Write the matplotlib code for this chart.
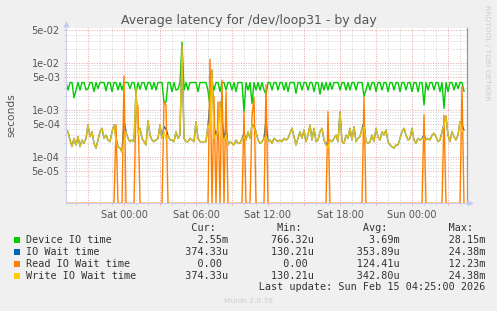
import numpy as np
import matplotlib
matplotlib.use("Agg")
import matplotlib.pyplot as plt
from matplotlib.patches import Rectangle, Polygon
from matplotlib.ticker import FixedLocator, NullFormatter

# one sample every 10 minutes, first one at Fri 19:10 (hours relative to Sat 00:00)
t_start = -4 - 50 / 60
t_step = 10 / 60

# Device IO time (ms)
device_io = [
    3.9, 2.7, 3.9, 3.9, 1.85, 2.7, 3.9, 2.7, 3.9, 3.9,
    2.7, 2.9, 3.9, 3.9, 2.5, 3.9, 2.9, 3.9, 3.9, 3.9,
    2.6, 3.9, 3.9, 2.5, 3.9, 3.9, 2.7, 3.9, 2.7, 3.9,
    3.9, 3.9, 2.9, 3.9, 3.9, 2.3, 3.9, 2.8, 3.9, 3.9,
    2.7, 3.9, 3.9, 2.8, 3.9, 2.7, 3.9, 3.9, 3.9, 1.5,
    1.5, 3.9, 3.9, 2.5, 3.9, 2.7, 2.8, 3.9, 28.15, 2.7,
    3.9, 2.7, 3.9, 3.9, 3.9, 3.9, 2.5, 3.9, 3.9, 3.9,
    3.9, 2.6, 1.2, 3.9, 2.7, 3.9, 3.9, 2.5, 3.9, 3.9,
    2.7, 3.9, 3.9, 2.7, 3.9, 2.5, 3.9, 3.9, 3.9, 0.93,
    3.9, 2.7, 3.9, 1.4, 3.9, 2.7, 3.9, 2.7, 3.9, 2.7,
    2.2, 3.9, 3.9, 2.7, 3.9, 3.9, 2.7, 3.9, 3.9, 2.7,
    3.9, 2.5, 3.9, 3.9, 3.9, 2.3, 3.9, 3.9, 2.7, 3.9,
    3.9, 2.7, 3.9, 3.9, 2.5, 3.9, 3.9, 2.2, 3.9, 2.7,
    3.9, 2.7, 3.9, 2.8, 3.9, 3.9, 3.9, 2.7, 3.9, 3.9,
    2.7, 3.9, 2.7, 3.9, 3.9, 2.7, 3.9, 3.9, 3.9, 2.0,
    2.7, 3.9, 2.7, 3.9, 3.9, 2.5, 3.9, 3.9, 2.7, 3.9,
    3.9, 2.5, 3.9, 3.9, 2.7, 3.9, 3.9, 2.5, 3.9, 3.9,
    2.7, 3.9, 3.9, 2.5, 3.9, 3.9, 2.5, 3.9, 3.9, 1.3,
    3.9, 2.7, 3.9, 3.9, 2.7, 3.9, 3.9, 2.5, 3.9, 1.1,
    3.9, 2.5, 3.9, 3.9, 2.7, 3.9, 2.9, 3.9, 3.9, 2.55,
]

# Write IO wait time (us)
write_wait = [
    380, 350, 233, 170, 253, 183, 275, 168, 233, 198,
    253, 487, 275, 350, 198, 156, 233, 350, 415, 253,
    297, 233, 215, 350, 487, 215, 168, 156, 130, 198,
    350, 253, 215, 233, 215, 2900, 297, 415, 253, 215,
    183, 600, 297, 233, 215, 233, 253, 490, 253, 350,
    233, 297, 233, 233, 215, 350, 253, 297, 24380, 253,
    215, 215, 253, 233, 215, 571, 253, 215, 215, 215,
    215, 487, 400, 7200, 253, 297, 350, 1500, 253, 233,
    297, 183, 215, 198, 183, 233, 198, 198, 253, 275,
    233, 350, 253, 487, 415, 350, 233, 198, 215, 253,
    275, 215, 233, 198, 253, 233, 215, 233, 215, 253,
    233, 253, 324, 415, 275, 183, 253, 350, 253, 381,
    215, 297, 487, 233, 415, 215, 233, 350, 415, 233,
    183, 156, 233, 215, 253, 297, 215, 930, 215, 198,
    297, 253, 415, 233, 449, 215, 253, 275, 415, 449,
    215, 198, 215, 297, 215, 415, 275, 233, 350, 297,
    381, 215, 183, 168, 156, 183, 183, 253, 350, 415,
    297, 233, 253, 415, 233, 198, 253, 233, 253, 253,
    233, 253, 233, 297, 324, 275, 215, 233, 350, 487,
    750, 297, 215, 350, 275, 233, 297, 571, 350, 374,
]

# Read IO wait time (us)
read_wait = [
    0, 0, 0, 0, 0, 0, 0, 0, 0, 0,
    0, 0, 0, 0, 0, 0, 0, 0, 0, 0,
    0, 0, 0, 0, 0, 490, 0, 0, 0, 5400,
    0, 0, 0, 0, 0, 1500, 1200, 0, 0, 0,
    0, 0, 0, 0, 0, 0, 0, 0, 0, 1500,
    1300, 0, 0, 0, 0, 0, 0, 0, 0, 0,
    0, 0, 0, 0, 0, 0, 0, 0, 0, 0,
    0, 0, 12230, 0, 2000, 0, 1500, 0, 4400, 0,
    2500, 0, 0, 0, 0, 0, 0, 0, 0, 930,
    0, 0, 0, 730, 1900, 0, 0, 0, 0, 0,
    3500, 0, 0, 0, 0, 0, 0, 0, 0, 0,
    0, 0, 0, 0, 0, 0, 0, 0, 0, 0,
    0, 0, 0, 0, 0, 0, 0, 0, 0, 0,
    0, 930, 0, 0, 0, 0, 0, 0, 0, 0,
    0, 0, 0, 0, 0, 0, 0, 0, 0, 1900,
    0, 0, 0, 0, 0, 0, 0, 0, 0, 0,
    0, 0, 0, 0, 0, 0, 0, 0, 0, 0,
    0, 0, 0, 0, 0, 0, 0, 0, 0, 800,
    0, 0, 0, 0, 0, 0, 0, 0, 0, 790,
    0, 0, 0, 0, 0, 0, 0, 0, 3200, 0,
]

# IO wait time (us)
io_wait = [
    380, 350, 233, 170, 253, 183, 275, 168, 233, 198,
    253, 487, 275, 350, 198, 156, 233, 350, 415, 253,
    297, 233, 215, 350, 487, 260, 168, 156, 130, 600,
    350, 253, 215, 233, 215, 2600, 350, 415, 253, 215,
    183, 600, 297, 233, 215, 233, 253, 490, 253, 450,
    400, 297, 233, 233, 215, 350, 253, 297, 24380, 253,
    215, 215, 253, 233, 215, 571, 253, 215, 215, 215,
    215, 487, 1400, 7200, 450, 297, 400, 1500, 700, 233,
    450, 183, 215, 198, 183, 233, 198, 198, 253, 320,
    233, 350, 253, 500, 450, 350, 233, 198, 215, 253,
    600, 215, 233, 198, 253, 233, 215, 233, 215, 253,
    233, 253, 324, 415, 275, 183, 253, 350, 253, 381,
    215, 297, 487, 233, 415, 215, 233, 350, 415, 233,
    183, 220, 233, 215, 253, 297, 215, 930, 215, 198,
    297, 253, 415, 233, 449, 215, 253, 275, 415, 550,
    215, 198, 215, 297, 215, 415, 275, 233, 350, 297,
    381, 215, 183, 168, 156, 183, 183, 253, 350, 415,
    297, 233, 253, 415, 233, 198, 253, 233, 253, 300,
    233, 253, 233, 297, 324, 275, 215, 233, 350, 520,
    750, 297, 215, 350, 275, 233, 297, 571, 500, 374,
]

names = ["Device IO time", "IO Wait time", "Read IO Wait time", "Write IO Wait time"]
colors = ["#00CC00", "#0066B3", "#FF8000", "#FFCC00"]
cur = ["2.55m", "374.33u", "0.00 ", "374.33u"]
mins = ["766.32u", "130.21u", "0.00 ", "130.21u"]
avgs = ["3.69m", "353.89u", "124.41u", "342.80u"]
maxs = ["28.15m", "24.38m", "12.23m", "24.38m"]

y_major = [5e-5, 1e-4, 5e-4, 1e-3, 5e-3, 1e-2, 5e-2]
y_labels = ["5e-05", "1e-04", "5e-04", "1e-03", "5e-03", "1e-02", "5e-02"]
ymin, ymax = 1.05e-5, 5.64e-2

W, H = 497, 311
def fx(px):
    return px / W
def fy(py):
    return 1 - py / H

fig = plt.figure(figsize=(W / 100, H / 100), dpi=100, facecolor="#F0F0F0")
ax = fig.add_axes([fx(66), fy(203.3), fx(467) - fx(66), (203.3 - 28) / H])
ax.set_facecolor("white")

t = t_start + t_step * np.arange(len(device_io))
lw = 1.0
ax.plot(t, np.array(device_io) * 1e-3, color=colors[0], lw=lw)
ax.plot(t, np.array(io_wait) * 1e-6, color=colors[1], lw=lw)
ax.plot(t, np.maximum(np.array(read_wait) * 1e-6, ymin), color=colors[2], lw=lw)
# the write line sits on top of the IO wait line, which tints it a little
ax.plot(t, np.array(write_wait) * 1e-6, color=colors[3], lw=lw, alpha=0.88)

ax.set_yscale("log")
ax.set_ylim(ymin, ymax)
ax.set_xlim((66 - 124) / 12, (467 - 124) / 12)

# y grid: labelled values red, the rest of each decade gray
ax.yaxis.set_major_locator(FixedLocator(y_major))
ax.set_yticklabels(y_labels)
y_minor = [m * 10.0 ** e for e in range(-5, -1) for m in (2, 3, 4, 6, 7, 8, 9)]
ax.yaxis.set_minor_locator(FixedLocator([v for v in y_minor if ymin < v < ymax]))
ax.yaxis.set_minor_formatter(NullFormatter())

# x grid: red every 3 hours, gray every hour, labels every 6 hours
x_major = list(range(-3, 29, 3))
x_labels = []
for h in x_major:
    if h % 6 == 0:
        x_labels.append(("Sat" if h < 24 else "Sun") + " %02d:00" % (h % 24))
    else:
        x_labels.append("")
ax.set_xticks(x_major)
ax.set_xticklabels(x_labels)
ax.set_xticks(list(range(-4, 29)), minor=True)

ax.grid(which="major", color="#EBA0A0", lw=0.7, linestyle=(0, (1, 1.6)))
ax.grid(which="minor", color="#D2D2D2", lw=0.7, linestyle=(0, (1, 1.6)))
ax.set_axisbelow(True)

ax.tick_params(which="both", length=1.5, width=0.7, labelsize=7,
               labelcolor="#555555", pad=3)
ax.tick_params(which="major", color="#EBA0A0")
ax.tick_params(which="minor", color="#D2D2D2")

ax.spines["top"].set_visible(False)
ax.spines["right"].set_color("#999999")
ax.spines["right"].set_linewidth(0.9)
ax.spines["left"].set_color("#CCCCEE")
ax.spines["bottom"].set_color("#CCCCEE")
ax.spines["left"].set_linewidth(0.8)
ax.spines["bottom"].set_linewidth(0.8)

# axis arrows
arrow_col = "#C8C8F0"
fig.add_artist(Polygon([(fx(66.5), fy(21)), (fx(63.5), fy(27.5)), (fx(69.5), fy(27.5))],
                       closed=True, color=arrow_col, lw=0))
fig.add_artist(Polygon([(fx(474), fy(203.3)), (fx(467.5), fy(200.3)), (fx(467.5), fy(206.3))],
                       closed=True, color=arrow_col, lw=0))

fig.text(fx(249), fy(24), "Average latency for /dev/loop31 - by day",
         ha="center", va="baseline", fontsize=9, color="#555555")
fig.text(fx(11), fy(115), "seconds", rotation=90, ha="center", va="center",
         fontsize=7.7, color="#555555")
fig.text(fx(487), fy(53), "RRDTOOL / TOBI OETIKER", rotation=270, ha="center",
         va="center", fontsize=5.4, color="#CCCCCC")

# legend, laid out on a monospace grid
mono = dict(family="DejaVu Sans Mono", fontsize=7.3, color="#333333",
            ha="left", va="baseline")
x0 = fx(26)
header = " " * 20 + "%11s  %12s  %12s  %12s" % ("Cur:", "Min:", "Avg:", "Max:")
fig.text(x0, fy(231), header, **mono)
baselines = [243.2, 255, 266.8, 278.7]
for k in range(4):
    row = "%-20s%13s%14s%14s%14s" % (names[k], cur[k], mins[k], avgs[k], maxs[k])
    fig.text(x0, fy(baselines[k]), row, **mono)
    fig.add_artist(Rectangle((fx(14), fy(baselines[k])), 6 / W, 6 / H,
                             color=colors[k], lw=0))
fig.text(x0, fy(290.5), "%75s" % "Last update: Sun Feb 15 04:25:00 2026", **mono)
fig.text(fx(248), fy(302.7), "Munin 2.0.76", ha="center", va="baseline",
         fontsize=5.4, color="#CCCCCC")

fig.savefig("out.png", dpi=100, facecolor=fig.get_facecolor())
